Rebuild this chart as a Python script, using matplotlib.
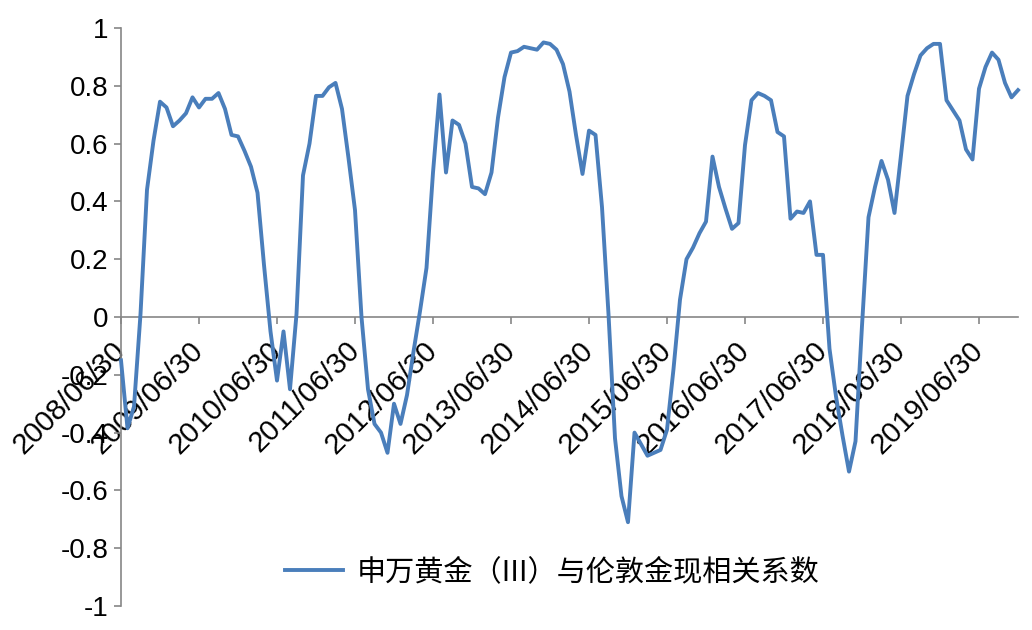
import matplotlib
matplotlib.use('Agg')
import matplotlib.pyplot as plt

# dados (mensal, 2008/06 a 2019/12)
correlacao = [
    -0.15, -0.385, -0.31, 0.01, 0.44, 0.61, 0.745, 0.725, 0.66, 0.68,
    0.705, 0.76, 0.725, 0.755, 0.755, 0.775, 0.72, 0.63, 0.625, 0.575,
    0.52, 0.43, 0.18, -0.05, -0.22, -0.05, -0.25, 0.01, 0.49, 0.6,
    0.765, 0.765, 0.795, 0.81, 0.72, 0.55, 0.37, 0.0, -0.25, -0.37,
    -0.40, -0.47, -0.30, -0.37, -0.27, -0.12, 0.02, 0.17, 0.50, 0.77,
    0.50, 0.68, 0.665, 0.60, 0.45, 0.445, 0.425, 0.50, 0.69, 0.83,
    0.915, 0.92, 0.935, 0.93, 0.925, 0.95, 0.945, 0.925, 0.875, 0.78,
    0.63, 0.495, 0.645, 0.63, 0.38, 0.01, -0.42, -0.62, -0.71, -0.40,
    -0.44, -0.48, -0.47, -0.46, -0.39, -0.18, 0.06, 0.20, 0.24, 0.29,
    0.33, 0.555, 0.45, 0.375, 0.305, 0.325, 0.595, 0.75, 0.775, 0.765,
    0.75, 0.64, 0.625, 0.34, 0.365, 0.36, 0.40, 0.215, 0.215, -0.11,
    -0.275, -0.41, -0.535, -0.43, -0.03, 0.345, 0.45, 0.54, 0.475, 0.36,
    0.56, 0.765, 0.84, 0.905, 0.93, 0.945, 0.945, 0.75, 0.715, 0.68,
    0.58, 0.545, 0.79, 0.865, 0.915, 0.89, 0.81, 0.76, 0.785,
]
rotulos_x = [
    "2008/06/30", "2009/06/30", "2010/06/30", "2011/06/30",
    "2012/06/30", "2013/06/30", "2014/06/30", "2015/06/30",
    "2016/06/30", "2017/06/30", "2018/06/30", "2019/06/30",
]
pos_rotulos = [0, 12, 24, 36, 48, 60, 72, 84, 96, 108, 120, 132]
ticks_y = [-1, -0.8, -0.6, -0.4, -0.2, 0, 0.2, 0.4, 0.6, 0.8, 1]
rotulos_y = ["-1", "-0.8", "-0.6", "-0.4", "-0.2", "0", "0.2", "0.4", "0.6", "0.8", "1"]
legenda = "申万黄金（III）与伦敦金现相关系数"

AZUL = "#4A7EBB"
CINZA = "#868686"

plt.rcParams['font.family'] = ['Liberation Sans', 'DejaVu Sans']

fig = plt.figure(figsize=(10.32, 6.30), dpi=100)
ax = fig.add_axes([121 / 1032, 24 / 630, 897 / 1032, 578 / 630])

xs = list(range(len(correlacao)))
# linha por cima dos rotulos, como no excel
linha, = ax.plot(xs, correlacao, color=AZUL, linewidth=2.8,
                 solid_joinstyle='round', clip_on=False, zorder=3)

ax.set_xlim(0, len(correlacao) - 1)
ax.set_ylim(-1, 1)

# eixos no estilo excel
for lado in ('top', 'right'):
    ax.spines[lado].set_visible(False)
ax.spines['left'].set_color(CINZA)
ax.spines['bottom'].set_color(CINZA)
ax.spines['bottom'].set_position(('data', 0))
ax.spines['left'].set_linewidth(1.2)
ax.spines['bottom'].set_linewidth(1.2)

ax.set_yticks(ticks_y)
ax.set_yticklabels(rotulos_y, fontsize=20)
ax.tick_params(axis='y', direction='out', length=5, width=1.2,
               color=CINZA, pad=4)

ax.set_xticks(pos_rotulos)
ax.set_xticklabels(rotulos_x, fontsize=21, rotation=45, ha='right',
                   va='center', rotation_mode='anchor')
ax.tick_params(axis='x', direction='out', length=5, width=1.2,
               color=CINZA, pad=16)

fig.legend([linha], [legenda], loc='center left',
           bbox_to_anchor=(285 / 1032, 58 / 630), frameon=False,
           borderpad=0, borderaxespad=0, handlelength=2.0,
           handletextpad=0.45,
           prop={'family': ['Noto Sans CJK SC', 'DejaVu Sans'], 'size': 21})

plt.savefig('out.png', dpi=100)
plt.close()
